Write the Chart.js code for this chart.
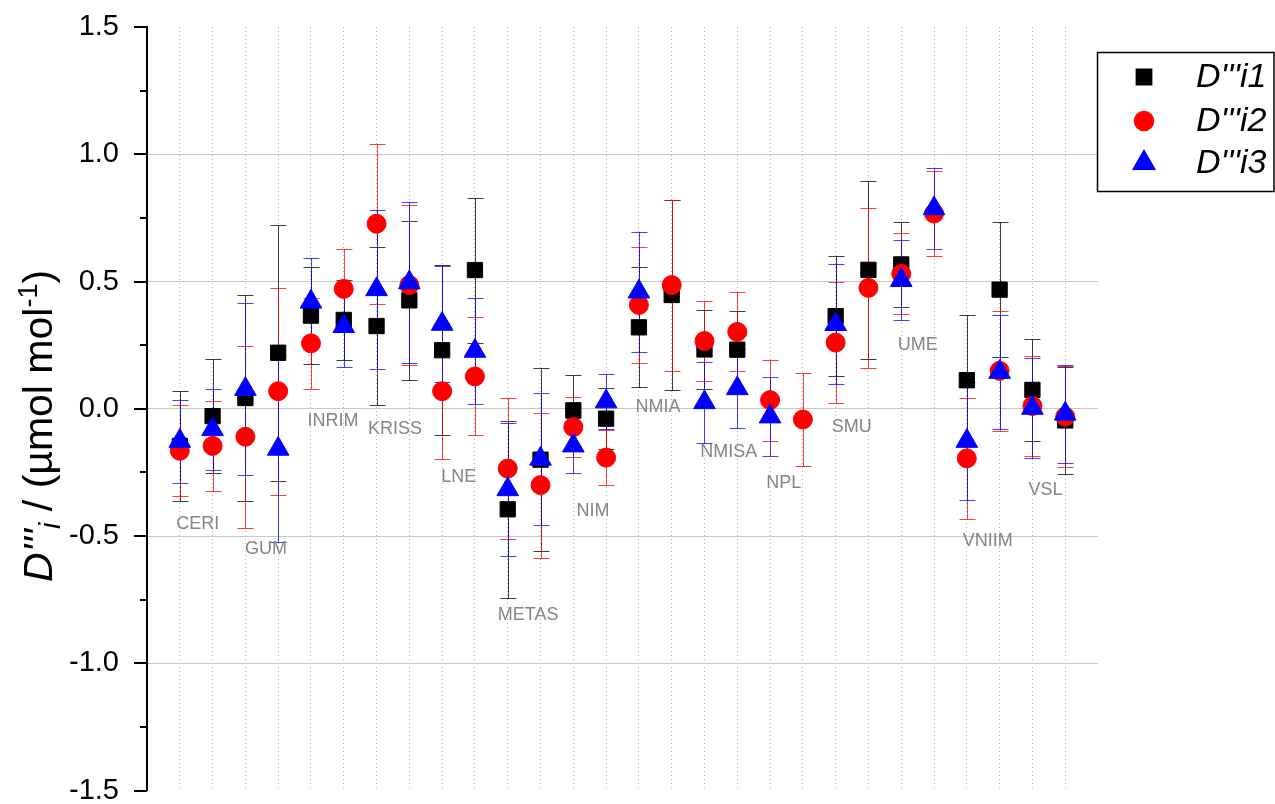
<!DOCTYPE html>
<html>
<head>
<meta charset="utf-8">
<script src="https://cdn.jsdelivr.net/npm/chart.js@4.4.0/dist/chart.umd.min.js"></script>
<style>
html,body{margin:0;padding:0;background:#ffffff;}
canvas{display:block;}
</style>
</head>
<body>
<canvas id="c" width="1275" height="804"></canvas>
<script>
// ---- data ----
const positions = [1,2,3,4,5,6,7,8,9,10,11,12,13,14,15,16,17,18,19,20,21,22,23,24,25,26,27,28];

const seriesNames = ["D'''i1", "D'''i2", "D'''i3"];

const d1 = [-0.146,-0.029,0.042,0.220,0.366,0.349,0.325,0.426,0.230,0.545,-0.395,-0.200,-0.006,-0.039,0.320,0.447,0.233,0.232,null,null,0.364,0.546,0.567,null,0.112,0.468,0.074,-0.046];
const u1 = [0.217,0.225,0.405,0.503,0.190,0.158,0.312,0.313,0.335,0.285,0.347,0.359,0.139,0.121,0.236,0.372,0.156,0.153,null,null,0.236,0.349,0.166,null,0.256,0.266,0.202,0.212];

const d2 = [-0.165,-0.146,-0.110,0.069,0.257,0.471,0.727,0.486,0.069,0.127,-0.235,-0.300,-0.072,-0.192,0.408,0.486,0.266,0.302,0.034,-0.042,0.260,0.475,0.530,0.767,-0.195,0.149,0.011,-0.031];
const u2 = [0.178,0.176,0.358,0.406,0.180,0.157,0.314,0.315,0.268,0.232,0.278,0.285,0.118,0.108,0.229,0.336,0.158,0.155,0.159,0.182,0.237,0.314,0.159,0.166,0.238,0.236,0.196,0.199];

const d3 = [-0.127,-0.081,0.077,-0.158,0.420,0.324,0.469,0.496,0.333,0.227,-0.317,-0.197,-0.145,0.028,0.460,null,0.025,0.080,-0.031,null,0.332,null,0.505,0.787,-0.127,0.144,0.003,-0.020];
const u3 = [0.163,0.159,0.338,0.367,0.174,0.159,0.313,0.316,0.228,0.209,0.262,0.260,0.107,0.107,0.236,null,0.158,0.155,0.155,null,0.236,null,0.157,0.158,0.231,0.225,0.195,0.193];

const labNames  = ["CERI","GUM","INRIM","KRISS","LNE","METAS","NIM","NMIA","NMISA","NPL","SMU","UME","VNIIM","VSL"];
const labLabelX = [1.55,3.63,5.67,7.56,9.51,11.62,13.6,15.58,17.74,19.42,21.49,23.5,25.64,27.4];
const labLabelY = [-0.454,-0.552,-0.047,-0.078,-0.27,-0.81,-0.40,0.008,-0.17,-0.29,-0.07,0.25,-0.52,-0.32];

const yTickValues = [-1.5,-1.25,-1.0,-0.75,-0.5,-0.25,0,0.25,0.5,0.75,1.0,1.25,1.5];

// ---- build ----
function build(vals, errs){
  const out = [];
  positions.forEach((p,i)=>{ if(vals[i]!==null) out.push({x:p, y:vals[i], u:errs[i]}); });
  return out;
}

const FONT = '"Liberation Sans", Arial, Helvetica, sans-serif';
const colors = ['#000000','#ff0000','#0000ff'];
const errColors = ['rgba(0,0,0,0.75)','rgba(255,0,0,0.75)','rgba(0,0,255,0.75)'];
const styles = ['rect','circle','triangle'];
const radii = [10.8, 9.5, 12.5];

const errorBars = {
  id:'errorBars',
  beforeDatasetsDraw(chart){
    const ctx = chart.ctx, x = chart.scales.x, y = chart.scales.y;
    ctx.save();
    chart.data.datasets.forEach((ds)=>{
      ctx.strokeStyle = ds.errColor;
      ctx.lineWidth = 1;
      ds.data.forEach(p=>{
        const px = Math.round(x.getPixelForValue(p.x)) + 0.5;
        const top = Math.round(y.getPixelForValue(p.y + p.u)) + 0.5;
        const bot = Math.round(y.getPixelForValue(p.y - p.u)) + 0.5;
        ctx.beginPath();
        ctx.moveTo(px, top); ctx.lineTo(px, bot);
        ctx.moveTo(px-8, top); ctx.lineTo(px+8, top);
        ctx.moveTo(px-8, bot); ctx.lineTo(px+8, bot);
        ctx.stroke();
      });
    });
    ctx.restore();
  }
};

const labLabels = {
  id:'labLabels',
  beforeDatasetsDraw(chart){
    const ctx = chart.ctx, x = chart.scales.x, y = chart.scales.y;
    ctx.save();
    ctx.fillStyle = '#858585';
    ctx.font = '18px ' + FONT;
    ctx.textAlign = 'center';
    ctx.textBaseline = 'middle';
    labNames.forEach((n,i)=>{
      ctx.fillText(n, x.getPixelForValue(labLabelX[i]), y.getPixelForValue(labLabelY[i]));
    });
    ctx.restore();
  }
};

const yTicksMarks = {
  id:'yTicksMarks',
  afterDraw(chart){
    const ctx = chart.ctx, y = chart.scales.y;
    const ax = chart.chartArea.left;
    ctx.save();
    ctx.strokeStyle = '#000';
    ctx.lineWidth = 2;
    yTickValues.forEach(v=>{
      const py = Math.round(y.getPixelForValue(v));
      const major = Math.abs(v*2 - Math.round(v*2)) < 1e-6;
      const len = major ? 13 : 7;
      ctx.beginPath();
      ctx.moveTo(ax - len, py); ctx.lineTo(ax, py);
      ctx.stroke();
    });
    ctx.restore();
  }
};

const yTitle = {
  id:'yTitle',
  afterDraw(chart){
    const ctx = chart.ctx;
    const segs = [
      {t:"D'''", f:'italic 41px ' + FONT, dy:0},
      {t:'i', f:'italic 29px ' + FONT, dy:8},
      {t:' / (\u00b5mol mol', f:'41px ' + FONT, dy:0},
      {t:'-1', f:'27px ' + FONT, dy:-15},
      {t:')', f:'41px ' + FONT, dy:0}
    ];
    ctx.save();
    let total = 0;
    segs.forEach(s=>{ ctx.font = s.f; s.w = ctx.measureText(s.t).width; total += s.w; });
    ctx.translate(52, 426);
    ctx.rotate(-Math.PI/2);
    ctx.fillStyle = '#000';
    ctx.textBaseline = 'alphabetic';
    ctx.textAlign = 'left';
    let xx = -total/2;
    segs.forEach(s=>{ ctx.font = s.f; ctx.fillText(s.t, xx, s.dy); xx += s.w; });
    ctx.restore();
  }
};

const legendBox = {
  id:'legendBox',
  afterDraw(chart){
    const ctx = chart.ctx;
    ctx.save();
    ctx.fillStyle = '#fff';
    ctx.fillRect(1097, 52, 178, 140);
    ctx.strokeStyle = '#000';
    ctx.lineWidth = 1.5;
    ctx.strokeRect(1097.5, 52.5, 176.5, 139);
    const rows = [77, 121, 163];
    ctx.font = 'italic 34px ' + FONT;
    ctx.textAlign = 'left';
    ctx.textBaseline = 'middle';
    seriesNames.forEach((n,i)=>{
      ctx.fillStyle = colors[i];
      ctx.strokeStyle = colors[i];
      Chart.helpers.drawPoint(ctx, {pointStyle: styles[i], radius: radii[i], borderWidth: 1}, 1144, rows[i]);
      ctx.fillStyle = '#000';
      ctx.fillText(n, 1196, rows[i] + 1);
    });
    ctx.restore();
  }
};

const datasets = [
  {label: seriesNames[0], data: build(d1,u1), order: 3},
  {label: seriesNames[1], data: build(d2,u2), order: 2},
  {label: seriesNames[2], data: build(d3,u3), order: 1}
].map((ds,i)=>Object.assign(ds, {
  pointStyle: styles[i],
  pointRadius: radii[i],
  pointHoverRadius: radii[i],
  backgroundColor: colors[i],
  borderColor: colors[i],
  borderWidth: 1,
  showLine: false,
  errColor: errColors[i]
}));

new Chart(document.getElementById('c'), {
  type: 'scatter',
  data: { datasets },
  plugins: [errorBars, labLabels, yTicksMarks, yTitle, legendBox],
  options: {
    responsive: false,
    animation: false,
    devicePixelRatio: 1,
    layout: { padding: { top: 27, right: 177, bottom: 11, left: 0 } },
    plugins: { legend: { display: false }, tooltip: { enabled: false } },
    scales: {
      x: {
        type: 'linear', min: 0, max: 29,
        ticks: { display: false, stepSize: 1 },
        border: { display: false, dash: [1, 3] },
        grid: {
          drawTicks: false,
          color: (c) => (c.tick && (c.tick.value === 0 || c.tick.value === 29)) ? 'rgba(0,0,0,0)' : '#b4b4b4',
          lineWidth: 1
        },
        afterFit: (s) => { s.height = 0; s.paddingLeft = 0; s.paddingRight = 0; }
      },
      y: {
        type: 'linear', min: -1.5, max: 1.5,
        afterBuildTicks: (s) => { s.ticks = yTickValues.map(v => ({value: v})); },
        ticks: {
          padding: 28,
          color: '#000',
          font: { family: FONT, size: 29 },
          callback: (v) => (Math.abs(v*2 - Math.round(v*2)) < 1e-6) ? Number(v).toFixed(1) : ''
        },
        border: { display: true, color: '#000', width: 2 },
        grid: {
          drawTicks: false,
          color: (c) => {
            const v = c.tick ? c.tick.value : 0;
            const major = Math.abs(v*2 - Math.round(v*2)) < 1e-6;
            return (major && Math.abs(v) < 1.4) ? '#c8c8c8' : 'rgba(0,0,0,0)';
          },
          lineWidth: 1
        },
        afterFit: (s) => { s.width = 147; s.paddingTop = 0; s.paddingBottom = 0; }
      }
    }
  }
});
</script>
</body>
</html>
